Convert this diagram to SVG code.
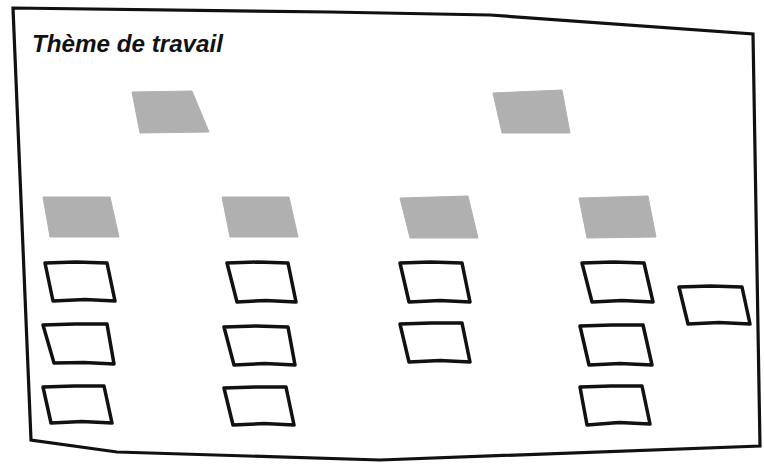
<svg xmlns="http://www.w3.org/2000/svg" width="764" height="464" viewBox="0 0 764 464">
<style>
.frame{fill:#ffffff;stroke:#111;stroke-width:3.2;stroke-linejoin:miter}
.head{fill:#b0b0b0;stroke:#b0b0b0;stroke-width:1;stroke-linejoin:round}
.box{fill:none;stroke:#111;stroke-width:3.5;stroke-linejoin:round;stroke-linecap:round}
.title{font-family:"Liberation Sans",Arial,sans-serif;font-size:24px;font-weight:bold;font-style:italic;fill:#111}
</style>
<rect width="764" height="464" fill="#ffffff"/>
<path class="frame" d="M13 8 L330 12 L490 15 L753 34 L760 446 L380 460 L117 452 L31 440 Z"/>
<text class="title" x="32" y="52" textLength="191" lengthAdjust="spacingAndGlyphs">Thème de travail</text>
<g id="head-a"><path class="head" d="M132 92 L192 91 L209 132 L140 133 Z"/></g>
<g id="head-b"><path class="head" d="M493 93 L562 90 L570 133 L502 133 Z"/></g>
<g id="group-1"><path class="head" d="M43 197 L110 197 L119 237 L50 237 Z"/></g>
<g id="group-2"><path class="head" d="M222 197 L289 197 L298 237 L230 237 Z"/></g>
<g id="group-3"><path class="head" d="M400 198 L468 196 L478 238 L410 238 Z"/></g>
<g id="group-4"><path class="head" d="M579 198 L648 196 L656 237 L587 238 Z"/></g>
<g id="card-1-1"><path class="box" d="M45 263 L76 262 L107 263 L115 301 L85 299.5 L53 301 Z"/></g>
<g id="card-1-2"><path class="box" d="M43 325 L75 324 L107 324 L114 364 L84 362.5 L54 363 Z"/></g>
<g id="card-1-3"><path class="box" d="M43 387 L74 386 L104 386 L112 423 L82 421.5 L51 423 Z"/></g>
<g id="card-2-1"><path class="box" d="M227 263 L258 262 L288 263 L296 302 L266 300.5 L237 302 Z"/></g>
<g id="card-2-2"><path class="box" d="M224 327 L256 326 L288 327 L295 365 L265 363.5 L234 365 Z"/></g>
<g id="card-2-3"><path class="box" d="M224 388 L255 387 L286 387 L294 425 L264 423.5 L233 425 Z"/></g>
<g id="card-3-1"><path class="box" d="M400 263 L431 262 L462 263 L470 302 L440 300.5 L409 302 Z"/></g>
<g id="card-3-2"><path class="box" d="M400 324 L431 323 L462 323 L470 362 L440 360.5 L409 362 Z"/></g>
<g id="card-4-1"><path class="box" d="M582 263 L613 262 L644 263 L653 302 L622 300.5 L592 302 Z"/></g>
<g id="card-4-2"><path class="box" d="M580 326 L612 325 L643 325 L652 365 L620 363.5 L589 365 Z"/></g>
<g id="card-4-3"><path class="box" d="M580 387 L611 386 L642 386 L650 424 L619 422.5 L587 425 Z"/></g>
<g id="card-extra"><path class="box" d="M679 287 L711 286 L742 287 L750 324 L719 322.5 L688 324 Z"/></g>
</svg>
